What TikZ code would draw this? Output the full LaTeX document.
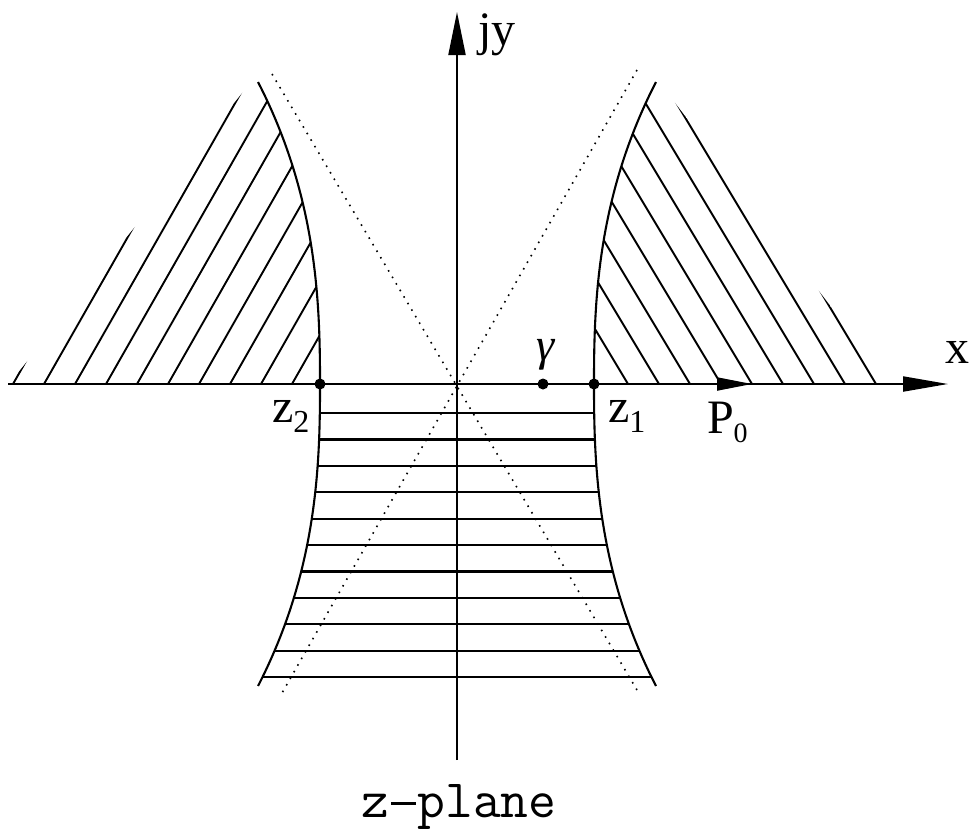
\documentclass[tikz,border=0pt]{standalone}
\usepackage{fontspec}
\setmainfont{Liberation Serif}
\setmonofont{Latin Modern Mono}
\usetikzlibrary{arrows.meta}
\newcommand\zsub[1]{\raisebox{-10pt}{\fontsize{32}{34}\selectfont #1}}
\newcommand\monodash{\makebox[0.525em]{\rule[0.22em]{0.45em}{0.05em}}}
\begin{document}
\begin{tikzpicture}[x=1pt,y=-1pt,line width=2pt,
  declare function={hw(\h)=137+63*(abs(\h)/304)*(abs(\h)/304)*sqrt(abs(\h)/304);},
  hatch/.style={line width=1.9pt},
  curve/.style={line width=2.1pt},
  dotline/.style={line width=1.6pt,dash pattern=on 1.6pt off 6pt},
  lab/.style={inner sep=0pt,font=\fontsize{48}{50}\selectfont},
  dot/.style={circle,fill,inner sep=0pt,minimum size=11pt}]
\useasboundingbox (0,0) rectangle (971,831);

% upper left hatching
\begin{scope}
\clip (9,384) -- (320,384) -- plot[domain=0:302,samples=31] ({457-hw(\x)},{384-\x}) -- (251,82) -- cycle;
\foreach \b in {13,44,...,292} \draw[hatch] (\b,384) -- ++(228,-400);
\end{scope}

% upper right hatching
\begin{scope}
\clip (594,384) -- (890,384) -- (659,82) -- (656,82) -- plot[domain=302:0,samples=31] ({457+hw(\x)},{384-\x}) -- cycle;
\foreach \b in {628,659,...,876} \draw[hatch] (\b,384) -- ++(-240,-400);
\end{scope}

% lower hatching
\begin{scope}
\clip plot[domain=0:302,samples=31] ({457-hw(\x)},{384+\x}) -- plot[domain=302:0,samples=31] ({457+hw(\x)},{384+\x}) -- cycle;
\foreach \k in {0,...,10} \draw[hatch,line width=2.2pt] (200,{413+26.4*\k}) -- (720,{413+26.4*\k});
\end{scope}

% boundary curves
\draw[curve] plot[domain=-302:302,samples=61,smooth] ({457-hw(\x)},{384+\x});
\draw[curve] plot[domain=-302:302,samples=61,smooth] ({457+hw(\x)},{384+\x});

% asymptotes
\coordinate (da1) at (272,74);
\coordinate (da2) at (637,690);
\coordinate (db1) at (637,70);
\coordinate (db2) at (282,693);
\draw[dotline] (da1) -- (da2);
\draw[dotline] (db1) -- (db2);

% axes
\coordinate (xl) at (8,384);
\coordinate (xr) at (948,384);
\coordinate (yb) at (457,760);
\coordinate (yt) at (457,12);
\draw[-{Triangle[length=45pt,width=15pt]}] (xl) -- (xr);
\draw[-{Triangle[length=43pt,width=17pt]}] (yb) -- (yt);
\coordinate (p0a) at (700,384);
\coordinate (p0b) at (752,384);
\draw[-{Triangle[length=35pt,width=13pt]}] (p0a) -- (p0b);

% points
\node[dot] (z2) at (320,384) {};
\node[dot] (z1) at (594,384) {};
\node[dot] (g) at (543,384) {};

% labels
\node[lab,anchor=base west] (lz2) at (271,422) {z\zsub{2}};
\node[lab,anchor=base west] (lz1) at (607,422) {z\zsub{1}};
\node[lab,anchor=base west] (lp0) at (706,433) {P\raisebox{-9pt}{\fontsize{28}{30}\selectfont 0}};
\node[lab,anchor=base west] (lx) at (944,363) {x};
\node[lab,anchor=base west] (ljy) at (477,45) {jy};
\node[inner sep=0pt,anchor=base,font=\fontsize{46}{48}\selectfont\itshape] (lg) at (546,360) {γ};
\node[inner sep=0pt,anchor=base,font=\ttfamily\fontsize{54}{60}\selectfont] (lzp) at (459,817) {z\monodash plane};
\end{tikzpicture}
\end{document}
